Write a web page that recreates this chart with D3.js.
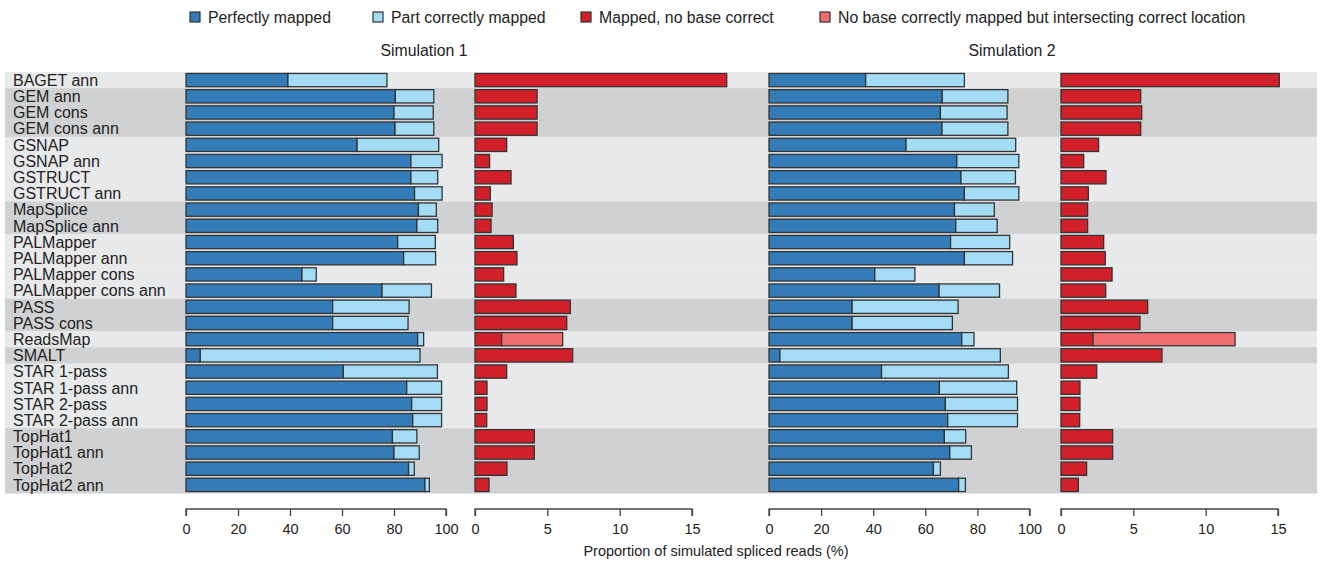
<!doctype html>
<html>
<head>
  <meta charset="utf-8">
  <title>Spliced reads</title>
  <script src="https://d3js.org/d3.v7.min.js"></script>
  <style>
    body { margin: 0; background: #fff; }
    text { font-family: "Liberation Sans", Arial, Helvetica, sans-serif; fill: #222; }
    .axis path, .axis line { stroke: #444; stroke-width: 1.3; }
    .axis text { font-size: 14.5px; fill: #222; }
  </style>
</head>
<body>
<script>

// row labels (top to bottom) and the background group each belongs to
var aligners = ['BAGET ann', 'GEM ann', 'GEM cons', 'GEM cons ann', 'GSNAP', 'GSNAP ann',
  'GSTRUCT', 'GSTRUCT ann', 'MapSplice', 'MapSplice ann', 'PALMapper', 'PALMapper ann',
  'PALMapper cons', 'PALMapper cons ann', 'PASS', 'PASS cons', 'ReadsMap', 'SMALT',
  'STAR 1-pass', 'STAR 1-pass ann', 'STAR 2-pass', 'STAR 2-pass ann',
  'TopHat1', 'TopHat1 ann', 'TopHat2', 'TopHat2 ann'];
var bandGroup = [0, 1, 1, 1, 2, 2, 2, 2, 3, 3, 4, 4, 4, 4, 5, 5, 6, 7, 8, 8, 8, 8, 9, 9, 9, 9];

// simulation 1 (%)
var sim1Perfect = [39.2, 80.5, 80.0, 80.4, 65.8, 86.5, 86.5, 87.9, 89.4, 88.8, 81.4, 83.7,
  44.6, 75.4, 56.4, 56.4, 89.1, 5.5, 60.5, 84.9, 86.8, 87.2, 79.4, 80.0, 85.6, 91.9];
var sim1Part = [38.1, 14.8, 15.1, 14.9, 31.4, 12.0, 10.3, 10.6, 6.9, 8.0, 14.5, 12.3,
  5.5, 19.0, 29.4, 29.0, 2.3, 84.5, 36.2, 13.4, 11.5, 11.1, 9.4, 9.7, 2.2, 1.7];
var sim1NoBase = [17.4, 4.29, 4.29, 4.29, 2.19, 1.01, 2.49, 1.06, 1.18, 1.11, 2.65, 2.90,
  1.98, 2.83, 6.59, 6.34, 1.84, 6.75, 2.19, 0.83, 0.83, 0.81, 4.10, 4.10, 2.21, 0.97];
var sim1Intersect = [0, 0, 0, 0, 0, 0, 0, 0, 0, 0, 0, 0,
  0, 0, 0, 0, 4.22, 0, 0, 0, 0, 0, 0, 0, 0, 0];

// simulation 2 (%)
var sim2Perfect = [37.1, 66.5, 65.8, 66.4, 52.6, 72.1, 73.7, 75.0, 71.2, 71.7, 69.7, 75.0,
  40.6, 65.3, 31.9, 31.9, 74.0, 4.2, 43.2, 65.4, 67.7, 68.6, 67.3, 69.4, 63.1, 72.8];
var sim2Part = [37.9, 25.2, 25.6, 25.3, 42.1, 23.8, 20.9, 20.9, 15.3, 15.9, 22.7, 18.5,
  15.4, 23.2, 40.7, 38.5, 4.7, 84.6, 48.7, 29.7, 27.7, 26.8, 8.2, 8.3, 2.7, 2.6];
var sim2NoBase = [15.09, 5.51, 5.58, 5.51, 2.60, 1.57, 3.11, 1.89, 1.84, 1.84, 2.95, 3.06,
  3.53, 3.09, 5.99, 5.46, 2.21, 6.98, 2.47, 1.31, 1.31, 1.29, 3.57, 3.57, 1.77, 1.20];
var sim2Intersect = [0, 0, 0, 0, 0, 0, 0, 0, 0, 0, 0, 0,
  0, 0, 0, 0, 9.82, 0, 0, 0, 0, 0, 0, 0, 0, 0];

var legendLabels = ['Perfectly mapped', 'Part correctly mapped', 'Mapped, no base correct',
  'No base correctly mapped but intersecting correct location'];
var legendColors = ['#337cb8', '#a5dcf5', '#d2202a', '#f06e70'];
var simTitles = ['Simulation 1', 'Simulation 2'];
var mappedTicks = [0, 20, 40, 60, 80, 100];
var wrongTicks = [0, 5, 10, 15];

var width = 1324, height = 568;
var svg = d3.select('body').append('svg')
  .attr('width', width)
  .attr('height', height);

// rows
var y = d3.scaleBand().domain(aligners).range([72, 493]).paddingInner(0).paddingOuter(0);
var barPad = y.step() * 0.09, barH = y.step() * 0.82;

// background bands
svg.append('g').selectAll('rect')
  .data(aligners)
  .enter().append('rect')
  .attr('x', 5)
  .attr('width', 1312)
  .attr('y', function (d) { return y(d); })
  .attr('height', y.step() + 0.5)
  .attr('fill', function (d, i) { return bandGroup[i] % 2 === 0 ? '#e8e9eb' : '#d0d1d3'; });

// row labels
svg.append('g').selectAll('text')
  .data(aligners)
  .enter().append('text')
  .attr('x', 13)
  .attr('y', function (d) { return y(d) + y.step() / 2; })
  .attr('dy', '0.36em')
  .style('font-size', '16px')
  .text(function (d) { return d; });

// panels: [x0, px width, max, first series, second series, first colour, second colour, ticks]
var panels = [
  { x0: 186, w: 260, max: 100, a: sim1Perfect, b: sim1Part, ca: legendColors[0], cb: legendColors[1], ticks: mappedTicks },
  { x0: 475, w: 217, max: 15, a: sim1NoBase, b: sim1Intersect, ca: legendColors[2], cb: legendColors[3], ticks: wrongTicks },
  { x0: 769, w: 260.5, max: 100, a: sim2Perfect, b: sim2Part, ca: legendColors[0], cb: legendColors[1], ticks: mappedTicks },
  { x0: 1061, w: 217, max: 15, a: sim2NoBase, b: sim2Intersect, ca: legendColors[2], cb: legendColors[3], ticks: wrongTicks }
];

panels.forEach(function (p) {
  var x = d3.scaleLinear().domain([0, p.max]).range([p.x0, p.x0 + p.w]);
  var g = svg.append('g');

  // stacked segments, second one drawn only where non-zero
  var rows = aligners.map(function (name, i) {
    return { name: name, a: p.a[i], b: p.b[i] };
  });

  g.selectAll('rect.a')
    .data(rows)
    .enter().append('rect')
    .attr('class', 'a')
    .attr('x', x(0))
    .attr('y', function (d) { return y(d.name) + barPad; })
    .attr('width', function (d) { return x(d.a) - x(0); })
    .attr('height', barH)
    .attr('fill', p.ca)
    .attr('stroke', '#333')
    .attr('stroke-width', 1.3);

  g.selectAll('rect.b')
    .data(rows.filter(function (d) { return d.b > 0; }))
    .enter().append('rect')
    .attr('class', 'b')
    .attr('x', function (d) { return x(d.a); })
    .attr('y', function (d) { return y(d.name) + barPad; })
    .attr('width', function (d) { return x(d.a + d.b) - x(d.a); })
    .attr('height', barH)
    .attr('fill', p.cb)
    .attr('stroke', '#333')
    .attr('stroke-width', 1.3);

  // axis
  svg.append('g')
    .attr('class', 'axis')
    .attr('transform', 'translate(0,509)')
    .call(d3.axisBottom(x).tickValues(p.ticks).tickSize(7).tickSizeOuter(7).tickPadding(8))
    .call(function (s) { s.select('.domain').attr('d', 'M' + x(0) + ',7V0H' + x(p.max) + 'V7'); });
});

// simulation titles
svg.selectAll('text.simTitle')
  .data(simTitles)
  .enter().append('text')
  .attr('class', 'simTitle')
  .attr('x', function (d, i) { return i === 0 ? 424 : 1012; })
  .attr('y', 50)
  .attr('dy', '0.35em')
  .attr('text-anchor', 'middle')
  .style('font-size', '15.8px')
  .text(function (d) { return d; });

// legend
var legendX = [195, 378, 586, 825];
var legend = svg.append('g').selectAll('g')
  .data(legendLabels)
  .enter().append('g')
  .attr('transform', function (d, i) { return 'translate(' + legendX[i] + ',17)'; });

legend.append('rect')
  .attr('x', -5).attr('y', -5)
  .attr('width', 10).attr('height', 10)
  .attr('fill', function (d, i) { return legendColors[i]; })
  .attr('stroke', '#333')
  .attr('stroke-width', 1.2);

legend.append('text')
  .attr('x', 13)
  .attr('dy', '0.35em')
  .style('font-size', '15.8px')
  .text(function (d) { return d; });

// axis title
svg.append('text')
  .attr('x', 716)
  .attr('y', 551)
  .attr('dy', '0.35em')
  .attr('text-anchor', 'middle')
  .style('font-size', '14.5px')
  .text('Proportion of simulated spliced reads (%)');

</script>
</body>
</html>
